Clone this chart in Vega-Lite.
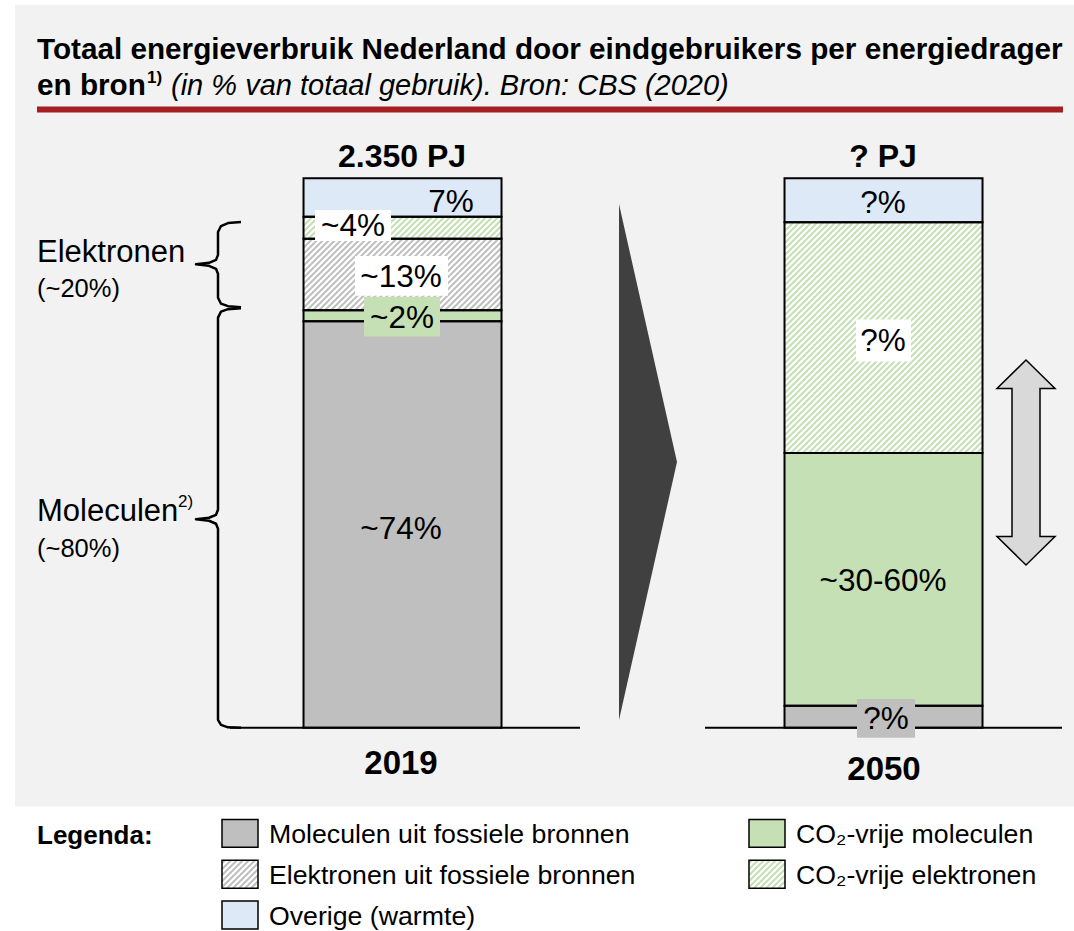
{
  "$schema": "https://vega.github.io/schema/vega-lite/v6.json",
  "width": 1074,
  "height": 931,
  "autosize": {"type": "fit", "contains": "padding"},
  "padding": 0,
  "background": "#ffffff",
  "config": {"font": "Liberation Sans", "view": {"stroke": null}},
  "datasets": {
    "legend": [
      {"cat": "Moleculen uit fossiele bronnen", "x": 222, "x2": 258, "y": 823, "y2": 851},
      {"cat": "Elektronen uit fossiele bronnen", "x": 222, "x2": 258, "y": 864, "y2": 892},
      {"cat": "Overige (warmte)", "x": 222, "x2": 258, "y": 905, "y2": 933},
      {"cat": "CO₂-vrije moleculen", "x": 749, "x2": 785, "y": 823, "y2": 851},
      {"cat": "CO₂-vrije elektronen", "x": 749, "x2": 785, "y": 864, "y2": 892}
    ]
  },
  "layer": [
    {
      "data": {"values": [{"x": 15, "x2": 1074, "y": 5, "y2": 810}]},
      "mark": {"type": "rect", "fill": "#f2f2f2"},
      "encoding": {
        "x": {"field": "x", "type": "quantitative", "scale": {"domain": [0, 1074], "nice": false, "zero": false}, "axis": null},
        "x2": {"field": "x2"},
        "y": {"field": "y", "type": "quantitative", "scale": {"domain": [0, 931], "nice": false, "zero": false, "reverse": true}, "axis": null},
        "y2": {"field": "y2"}
      }
    },
    {
      "data": {"values": [
        {"year": "2019", "cat": "Moleculen uit fossiele bronnen", "pct": 74, "order": 1},
        {"year": "2019", "cat": "CO₂-vrije moleculen", "pct": 2, "order": 2},
        {"year": "2019", "cat": "Elektronen uit fossiele bronnen", "pct": 13, "order": 3},
        {"year": "2019", "cat": "CO₂-vrije elektronen", "pct": 4, "order": 4},
        {"year": "2019", "cat": "Overige (warmte)", "pct": 7, "order": 5},
        {"year": "2050", "cat": "Moleculen uit fossiele bronnen", "pct": 4, "order": 1},
        {"year": "2050", "cat": "CO₂-vrije moleculen", "pct": 46, "order": 2},
        {"year": "2050", "cat": "CO₂-vrije elektronen", "pct": 42, "order": 4},
        {"year": "2050", "cat": "Overige (warmte)", "pct": 8, "order": 5}
      ]},
      "transform": [
        {"stack": "pct", "groupby": ["year"], "sort": [{"field": "order", "order": "ascending"}], "as": ["lo", "hi"]}
      ],
      "encoding": {
        "x": {"field": "year", "type": "nominal", "scale": {"type": "band", "domain": ["2019", "2050"], "paddingInner": 0.58836, "paddingOuter": 0.41061, "align": 0.7684}, "axis": null}
      },
      "layer": [
        {
          "mark": {"type": "bar"},
          "encoding": {
            "y": {"field": "lo", "type": "quantitative", "scale": {"domain": [-36.232, 132.428], "nice": false, "zero": false}, "axis": null},
            "y2": {"field": "hi"},
            "fill": {"field": "cat", "type": "nominal", "legend": null, "scale": {
              "domain": ["Moleculen uit fossiele bronnen", "CO₂-vrije moleculen", "Elektronen uit fossiele bronnen", "CO₂-vrije elektronen", "Overige (warmte)"],
              "range": ["#bfbfbf", "#c5e0b4", "#ffffff", "#ffffff", "#dde9f6"]}}
          }
        },
        {
          "transform": [{"filter": "datum.year === '2019' && datum.order === 4"}],
          "mark": {"type": "point", "size": 4, "filled": false, "opacity": 1, "stroke": "#c5e0b4", "strokeWidth": 2, "strokeCap": "butt",
            "shape": "M-99,3l3,-3M-99,9l9,-9M-99,15l15,-15M-99,21l21,-21M-94,22l22,-22M-88,22l22,-22M-82,22l22,-22M-76,22l22,-22M-70,22l22,-22M-64,22l22,-22M-58,22l22,-22M-52,22l22,-22M-46,22l22,-22M-40,22l22,-22M-34,22l22,-22M-28,22l22,-22M-22,22l22,-22M-16,22l22,-22M-10,22l22,-22M-4,22l22,-22M2,22l22,-22M8,22l22,-22M14,22l22,-22M20,22l22,-22M26,22l22,-22M32,22l22,-22M38,22l22,-22M44,22l22,-22M50,22l22,-22M56,22l22,-22M62,22l22,-22M68,22l22,-22M74,22l22,-22M80,22L99,3M86,22L99,9M92,22L99,15M98,22L99,21"},
          "encoding": {
            "y": {"field": "hi", "type": "quantitative", "scale": {"domain": [-36.232, 132.428], "nice": false, "zero": false}, "axis": null}
          }
        },
        {
          "transform": [{"filter": "datum.year === '2019' && datum.order === 3"}],
          "mark": {"type": "point", "size": 4, "filled": false, "opacity": 1, "stroke": "#bfbfbf", "strokeWidth": 2, "strokeCap": "butt",
            "shape": "M-99,3l3,-3M-99,9l9,-9M-99,15l15,-15M-99,21l21,-21M-99,27l27,-27M-99,33l33,-33M-99,39l39,-39M-99,45l45,-45M-99,51l51,-51M-99,57l57,-57M-99,63l63,-63M-99,69l69,-69M-96,72l72,-72M-90,72l72,-72M-84,72l72,-72M-78,72l72,-72M-72,72l72,-72M-66,72l72,-72M-60,72l72,-72M-54,72l72,-72M-48,72l72,-72M-42,72l72,-72M-36,72l72,-72M-30,72l72,-72M-24,72l72,-72M-18,72l72,-72M-12,72l72,-72M-6,72l72,-72M0,72l72,-72M6,72l72,-72M12,72l72,-72M18,72l72,-72M24,72l72,-72M30,72L99,3M36,72L99,9M42,72L99,15M48,72L99,21M54,72L99,27M60,72L99,33M66,72L99,39M72,72L99,45M78,72L99,51M84,72L99,57M90,72L99,63M96,72L99,69"},
          "encoding": {
            "y": {"field": "hi", "type": "quantitative", "scale": {"domain": [-36.232, 132.428], "nice": false, "zero": false}, "axis": null}
          }
        },
        {
          "transform": [{"filter": "datum.year === '2050' && datum.order === 4"}],
          "mark": {"type": "point", "size": 4, "filled": false, "opacity": 1, "stroke": "#c5e0b4", "strokeWidth": 2, "strokeCap": "butt",
            "shape": "M-99,3l3,-3M-99,9l9,-9M-99,15l15,-15M-99,21l21,-21M-99,27l27,-27M-99,33l33,-33M-99,39l39,-39M-99,45l45,-45M-99,51l51,-51M-99,57l57,-57M-99,63l63,-63M-99,69l69,-69M-99,75l75,-75M-99,81l81,-81M-99,87l87,-87M-99,93l93,-93M-99,99l99,-99M-99,105l105,-105M-99,111l111,-111M-99,117l117,-117M-99,123l123,-123M-99,129l129,-129M-99,135l135,-135M-99,141l141,-141M-99,147l147,-147M-99,153l153,-153M-99,159l159,-159M-99,165l165,-165M-99,171l171,-171M-99,177l177,-177M-99,183l183,-183M-99,189l189,-189M-99,195l195,-195M-99,201l198,-198M-99,207l198,-198M-99,213l198,-198M-99,219l198,-198M-99,225l198,-198M-99,231l198,-198M-94,232L99,39M-88,232L99,45M-82,232L99,51M-76,232L99,57M-70,232L99,63M-64,232L99,69M-58,232L99,75M-52,232L99,81M-46,232L99,87M-40,232L99,93M-34,232L99,99M-28,232L99,105M-22,232L99,111M-16,232L99,117M-10,232L99,123M-4,232L99,129M2,232L99,135M8,232L99,141M14,232L99,147M20,232L99,153M26,232L99,159M32,232L99,165M38,232L99,171M44,232L99,177M50,232L99,183M56,232L99,189M62,232L99,195M68,232L99,201M74,232L99,207M80,232L99,213M86,232L99,219M92,232L99,225M98,232L99,231"},
          "encoding": {
            "y": {"field": "hi", "type": "quantitative", "scale": {"domain": [-36.232, 132.428], "nice": false, "zero": false}, "axis": null}
          }
        },
        {
          "mark": {"type": "bar", "fillOpacity": 0, "stroke": "#000000", "strokeWidth": 2},
          "encoding": {
            "y": {"field": "lo", "type": "quantitative", "scale": {"domain": [-36.232, 132.428], "nice": false, "zero": false}, "axis": null},
            "y2": {"field": "hi"}
          }
        }
      ]
    },
    {
      "encoding": {
        "x": {"field": "x", "type": "quantitative", "scale": {"domain": [0, 1074], "nice": false, "zero": false}, "axis": null},
        "y": {"field": "y", "type": "quantitative", "scale": {"domain": [0, 931], "nice": false, "zero": false, "reverse": true}, "axis": null}
      },
      "layer": [
        {
          "data": {"values": [{"x": 37, "x2": 1063, "y": 110}]},
          "mark": {"type": "rule", "stroke": "#a41e22", "strokeWidth": 6},
          "encoding": {"x2": {"field": "x2"}}
        },
        {
          "data": {"values": [{"x": 230, "x2": 580, "y": 731}, {"x": 705, "x2": 1062, "y": 731}]},
          "mark": {"type": "rule", "stroke": "#000000", "strokeWidth": 2},
          "encoding": {"x2": {"field": "x2"}}
        },
        {
          "data": {"values": [{"x": 619, "y": 205, "y2": 723}, {"x": 677, "y": 464, "y2": 464}]},
          "mark": {"type": "area", "orient": "vertical", "fill": "#404040"},
          "encoding": {"y2": {"field": "y2"}}
        },
        {
          "data": {"values": [{"x": 1026, "y": 464.5}]},
          "mark": {"type": "point", "size": 4, "filled": true, "opacity": 1, "fill": "#d9d9d9", "stroke": "#000000", "strokeWidth": 1.5,
            "shape": "M0,-102.5L29,-74L14,-74L14,74L29,74L0,102.5L-29,74L-14,74L-14,-74L-29,-74Z"}
        },
        {
          "data": {"values": [
            {"b": 1, "i": 1, "x": 241, "y": 223}, {"b": 1, "i": 2, "x": 228, "y": 224}, {"b": 1, "i": 3, "x": 221, "y": 227},
            {"b": 1, "i": 4, "x": 218, "y": 233}, {"b": 1, "i": 5, "x": 218, "y": 256}, {"b": 1, "i": 6, "x": 216, "y": 261},
            {"b": 1, "i": 7, "x": 209, "y": 264}, {"b": 1, "i": 8, "x": 196, "y": 265.5}, {"b": 1, "i": 9, "x": 209, "y": 267},
            {"b": 1, "i": 10, "x": 216, "y": 270}, {"b": 1, "i": 11, "x": 218, "y": 275}, {"b": 1, "i": 12, "x": 218, "y": 299},
            {"b": 1, "i": 13, "x": 221, "y": 305}, {"b": 1, "i": 14, "x": 228, "y": 307.5}, {"b": 1, "i": 15, "x": 241, "y": 308.5},
            {"b": 2, "i": 1, "x": 241, "y": 309.5}, {"b": 2, "i": 2, "x": 228, "y": 310.5}, {"b": 2, "i": 3, "x": 221, "y": 313},
            {"b": 2, "i": 4, "x": 218, "y": 319}, {"b": 2, "i": 5, "x": 218, "y": 512}, {"b": 2, "i": 6, "x": 216, "y": 517},
            {"b": 2, "i": 7, "x": 209, "y": 520}, {"b": 2, "i": 8, "x": 196, "y": 521.5}, {"b": 2, "i": 9, "x": 209, "y": 523},
            {"b": 2, "i": 10, "x": 216, "y": 526}, {"b": 2, "i": 11, "x": 218, "y": 531}, {"b": 2, "i": 12, "x": 218, "y": 723},
            {"b": 2, "i": 13, "x": 221, "y": 728}, {"b": 2, "i": 14, "x": 228, "y": 730.5}, {"b": 2, "i": 15, "x": 241, "y": 731}
          ]},
          "mark": {"type": "line", "stroke": "#000000", "strokeWidth": 2.5, "strokeJoin": "round"},
          "encoding": {
            "detail": {"field": "b", "type": "nominal"},
            "order": {"field": "i", "type": "quantitative"}
          }
        },
        {
          "data": {"values": [{"x": 315, "x2": 391, "y": 211, "y2": 242}, {"x": 355, "x2": 448, "y": 257, "y2": 297}, {"x": 856, "x2": 911, "y": 321, "y2": 363}]},
          "mark": {"type": "rect", "fill": "#ffffff"},
          "encoding": {"x2": {"field": "x2"}, "y2": {"field": "y2"}}
        },
        {
          "data": {"values": [{"x": 364, "x2": 440, "y": 298, "y2": 338}]},
          "mark": {"type": "rect", "fill": "#c5e0b4"},
          "encoding": {"x2": {"field": "x2"}, "y2": {"field": "y2"}}
        },
        {
          "data": {"values": [{"x": 857, "x2": 915, "y": 702, "y2": 741}]},
          "mark": {"type": "rect", "fill": "#bfbfbf"},
          "encoding": {"x2": {"field": "x2"}, "y2": {"field": "y2"}}
        },
        {
          "data": {"values": [
            {"x": 37, "y": 59, "t": "Totaal energieverbruik Nederland door eindgebruikers per energiedrager"},
            {"x": 37, "y": 95, "t": "en bron"}
          ]},
          "mark": {"type": "text", "align": "left", "baseline": "alphabetic", "fontSize": 29.7, "fontWeight": "bold", "fill": "#000000"},
          "encoding": {"text": {"field": "t"}}
        },
        {
          "data": {"values": [{"x": 147, "y": 83, "t": "1)"}]},
          "mark": {"type": "text", "align": "left", "baseline": "alphabetic", "fontSize": 17, "fontWeight": "bold", "fill": "#000000"},
          "encoding": {"text": {"field": "t"}}
        },
        {
          "data": {"values": [{"x": 171, "y": 95, "t": "(in % van totaal gebruik). Bron: CBS (2020)"}]},
          "mark": {"type": "text", "align": "left", "baseline": "alphabetic", "fontSize": 29, "fontStyle": "italic", "fill": "#000000"},
          "encoding": {"text": {"field": "t"}}
        },
        {
          "data": {"values": [{"x": 402, "y": 168, "t": "2.350 PJ"}, {"x": 883, "y": 168, "t": "? PJ"}]},
          "mark": {"type": "text", "align": "center", "baseline": "alphabetic", "fontSize": 32, "fontWeight": "bold", "fill": "#000000"},
          "encoding": {"text": {"field": "t"}}
        },
        {
          "data": {"values": [{"x": 401, "y": 777, "t": "2019"}, {"x": 884, "y": 783, "t": "2050"}]},
          "mark": {"type": "text", "align": "center", "baseline": "alphabetic", "fontSize": 33, "fontWeight": "bold", "fill": "#000000"},
          "encoding": {"text": {"field": "t"}}
        },
        {
          "data": {"values": [
            {"x": 451, "y": 213, "t": "7%"}, {"x": 353, "y": 237, "t": "~4%"}, {"x": 401, "y": 288, "t": "~13%"},
            {"x": 402, "y": 329, "t": "~2%"}, {"x": 401, "y": 541, "t": "~74%"}, {"x": 883, "y": 214, "t": "?%"},
            {"x": 883, "y": 353, "t": "?%"}, {"x": 883, "y": 594, "t": "~30-60%"}, {"x": 886, "y": 732, "t": "?%"}
          ]},
          "mark": {"type": "text", "align": "center", "baseline": "alphabetic", "fontSize": 31.5, "fill": "#000000"},
          "encoding": {"text": {"field": "t"}}
        },
        {
          "data": {"values": [{"x": 37, "y": 263, "t": "Elektronen"}, {"x": 37, "y": 523, "t": "Moleculen"}]},
          "mark": {"type": "text", "align": "left", "baseline": "alphabetic", "fontSize": 31, "fill": "#000000"},
          "encoding": {"text": {"field": "t"}}
        },
        {
          "data": {"values": [{"x": 37, "y": 298, "t": "(~20%)"}, {"x": 37, "y": 559, "t": "(~80%)"}]},
          "mark": {"type": "text", "align": "left", "baseline": "alphabetic", "fontSize": 25.5, "fill": "#000000"},
          "encoding": {"text": {"field": "t"}}
        },
        {
          "data": {"values": [{"x": 178, "y": 509, "t": "2)"}]},
          "mark": {"type": "text", "align": "left", "baseline": "alphabetic", "fontSize": 17, "fill": "#000000"},
          "encoding": {"text": {"field": "t"}}
        },
        {
          "data": {"values": [{"x": 37, "y": 848, "t": "Legenda:"}]},
          "mark": {"type": "text", "align": "left", "baseline": "alphabetic", "fontSize": 26, "fontWeight": "bold", "fill": "#000000"},
          "encoding": {"text": {"field": "t"}}
        },
        {
          "data": {"name": "legend"},
          "mark": {"type": "rect"},
          "encoding": {
            "x2": {"field": "x2"}, "y2": {"field": "y2"},
            "fill": {"field": "cat", "type": "nominal", "legend": null, "scale": {
              "domain": ["Moleculen uit fossiele bronnen", "CO₂-vrije moleculen", "Elektronen uit fossiele bronnen", "CO₂-vrije elektronen", "Overige (warmte)"],
              "range": ["#bfbfbf", "#c5e0b4", "#ffffff", "#ffffff", "#dde9f6"]}}
          }
        },
        {
          "data": {"name": "legend"},
          "transform": [{"filter": "datum.cat === 'Elektronen uit fossiele bronnen'"}],
          "mark": {"type": "point", "size": 4, "filled": false, "opacity": 1, "stroke": "#bfbfbf", "strokeWidth": 2, "strokeCap": "butt",
            "shape": "M0,3l3,-3M0,9l9,-9M0,15l15,-15M0,21l21,-21M0,27l27,-27M5,28l28,-28M11,28L36,3M17,28L36,9M23,28L36,15M29,28L36,21M35,28L36,27"}
        },
        {
          "data": {"name": "legend"},
          "transform": [{"filter": "datum.cat === 'CO₂-vrije elektronen'"}],
          "mark": {"type": "point", "size": 4, "filled": false, "opacity": 1, "stroke": "#c5e0b4", "strokeWidth": 2, "strokeCap": "butt",
            "shape": "M0,3l3,-3M0,9l9,-9M0,15l15,-15M0,21l21,-21M0,27l27,-27M5,28l28,-28M11,28L36,3M17,28L36,9M23,28L36,15M29,28L36,21M35,28L36,27"}
        },
        {
          "data": {"name": "legend"},
          "mark": {"type": "rect", "fillOpacity": 0, "stroke": "#000000", "strokeWidth": 1.5},
          "encoding": {"x2": {"field": "x2"}, "y2": {"field": "y2"}}
        },
        {
          "data": {"name": "legend"},
          "mark": {"type": "text", "align": "left", "baseline": "alphabetic", "fontSize": 26.7, "fill": "#000000", "dx": 47, "dy": 24},
          "encoding": {"text": {"field": "cat"}}
        }
      ]
    }
  ],
  "resolve": {"scale": {"x": "independent", "y": "independent", "fill": "independent"}}
}
